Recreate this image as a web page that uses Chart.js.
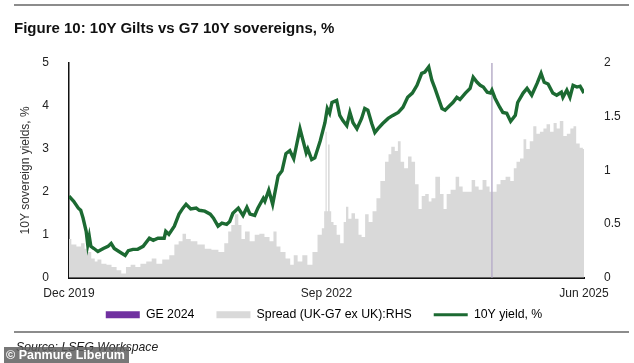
<!DOCTYPE html>
<html>
<head>
<meta charset="utf-8">
<script src="https://cdn.jsdelivr.net/npm/chart.js@4.4.1/dist/chart.umd.min.js"></script>
<style>
  html, body { margin: 0; padding: 0; background: #fff; }
  body { width: 634px; height: 363px; position: relative; overflow: hidden; font-family: "Liberation Sans", Arial, sans-serif; }
  #wrap { position: absolute; left: 0; top: 0; width: 634px; height: 363px; }
  .rule { position: absolute; left: 14px; width: 615px; height: 2px; background: #8c8c8c; }
  #title { position: absolute; left: 14px; top: 19px; font-size: 15px; font-weight: bold; color: #111; white-space: nowrap; }
  #source { position: absolute; left: 16px; top: 340px; font-size: 12.2px; font-style: italic; color: #222; white-space: nowrap; }
  #wm { position: absolute; left: 4px; top: 347px; width: 123px; height: 16px; background: rgba(95,95,95,0.85); color: #fff; font-weight: bold; font-size: 12.5px; line-height: 16px; padding-left: 2px; white-space: nowrap; }
</style>
</head>
<body>
<div id="wrap"><canvas id="c" width="634" height="363"></canvas></div>
<div class="rule" style="top:4px"></div>
<div id="title">Figure 10: 10Y Gilts vs G7 10Y sovereigns, %</div>
<div class="rule" style="top:331px;height:1.5px"></div>
<div id="source">Source: LSEG Workspace</div>
<div id="wm">© Panmure Liberum</div>
<script>
// x values are months since Dec 2019 (0 = Dec 2019, 66 = Jun 2025)
const xTickMonths = [0, 33, 66];
const xTickLabels = ['Dec 2019', 'Sep 2022', 'Jun 2025'];
const geMonth = 54.2;

const yieldMonths = [0,0.6,1.2,1.5,1.8,2.2,2.4,2.6,2.8,3.2,3.7,4.4,5.0,5.4,5.8,6.4,7.2,7.6,8.2,8.8,9.5,10.3,10.8,11.4,12.2,12.4,12.8,13.5,14.1,14.6,15.0,15.6,16.3,16.7,17.4,18.1,18.5,19.1,19.6,20.2,20.6,21.0,21.7,22.3,22.8,23.2,23.8,24.2,24.9,25.1,25.6,26.1,26.8,27.3,27.8,28.3,28.8,29.6,30.0,30.4,30.6,31.1,31.5,32.2,32.8,33.1,33.4,33.7,34.3,34.7,35.1,35.6,36.0,36.4,36.9,37.5,37.9,38.3,38.8,39.2,39.6,40.2,40.9,41.5,42.2,42.8,43.4,44.0,44.6,45.2,45.6,46.1,46.5,46.9,47.3,47.8,48.2,48.8,49.2,49.7,50.1,50.8,51.4,51.8,52.3,52.7,53.1,53.6,54.0,54.2,54.6,55.2,55.6,56.1,56.6,57.2,57.5,58.2,58.7,59.3,60.0,60.5,60.9,61.4,62.0,62.5,63.1,63.3,63.8,64.2,64.6,65.1,65.5,66.0];
const yieldValues = [1.90,1.78,1.62,1.57,1.39,1.08,0.77,0.96,0.73,0.68,0.61,0.68,0.73,0.80,0.68,0.61,0.52,0.63,0.66,0.66,0.73,0.92,0.87,0.92,0.92,1.08,1.01,1.20,1.48,1.62,1.71,1.60,1.62,1.57,1.55,1.48,1.39,1.20,1.27,1.24,1.31,1.50,1.62,1.45,1.64,1.48,1.45,1.62,1.85,1.78,2.04,1.71,2.37,2.49,2.89,2.96,2.77,3.47,3.19,2.91,3.00,2.75,2.79,3.19,3.61,3.94,3.83,4.08,4.13,3.78,3.66,3.54,3.85,3.61,3.47,3.71,3.94,3.90,3.59,3.38,3.47,3.59,3.71,3.78,3.85,3.97,4.20,4.30,4.48,4.76,4.79,4.91,4.60,4.41,4.20,3.94,3.90,4.01,4.08,4.20,4.15,4.30,4.41,4.67,4.55,4.48,4.44,4.32,4.30,4.37,4.18,3.97,3.85,3.83,3.64,3.78,4.08,4.30,4.41,4.25,4.53,4.76,4.55,4.51,4.30,4.25,4.32,4.20,4.37,4.20,4.48,4.44,4.46,4.30];

const spreadMonths = [0,0.6,1.3,1.8,2.2,2.6,3.1,3.5,3.8,4.5,5.1,5.8,6.4,7.0,7.6,8.2,8.8,9.5,10.3,10.9,11.5,12.4,13.3,13.7,14.4,14.7,15.3,15.9,17.0,17.8,18.7,19.6,20.2,20.6,21.0,21.5,21.9,22.3,22.8,23.5,24.1,24.7,25.4,26.0,26.4,26.8,27.4,28.1,28.6,29.0,29.6,30.2,30.9,31.5,32.2,32.6,32.8,32.95,33.1,33.3,33.5,33.7,34.1,34.5,35.0,35.4,35.6,36.0,36.4,36.9,37.3,37.7,38.2,38.6,39.2,39.6,40.2,40.8,41.1,41.5,42.0,42.3,42.7,43.2,43.7,44.1,44.6,45.0,45.4,45.9,46.3,46.6,47.3,47.8,48.2,48.6,49.2,49.9,50.1,50.8,51.4,51.8,52.3,52.7,53.3,53.7,54.1,54.6,55.0,55.6,56.3,56.8,57.2,57.5,58.1,58.4,58.8,59.3,59.7,60.1,60.6,61.0,61.4,61.9,62.3,62.7,63.1,63.6,64.0,64.5,64.8,65.2,65.7,66.0];
const spreadValues = [0.36,0.31,0.29,0.32,0.27,0.24,0.18,0.15,0.17,0.13,0.12,0.10,0.07,0.04,0.10,0.12,0.10,0.13,0.15,0.18,0.13,0.17,0.21,0.31,0.34,0.41,0.36,0.34,0.31,0.27,0.26,0.24,0.32,0.43,0.49,0.59,0.49,0.36,0.43,0.34,0.40,0.41,0.38,0.34,0.43,0.29,0.24,0.18,0.12,0.21,0.15,0.21,0.12,0.24,0.40,0.46,0.62,1.36,0.62,1.24,0.62,0.52,0.49,0.40,0.32,0.52,0.66,0.55,0.60,0.55,0.40,0.38,0.59,0.52,0.62,0.74,0.90,1.08,1.15,1.22,1.18,1.27,1.08,1.02,1.13,1.08,0.87,0.64,0.76,0.78,0.71,0.74,0.94,0.78,0.64,0.78,0.82,0.94,0.85,0.80,0.80,0.91,0.85,0.82,0.91,0.85,0.80,0.80,0.87,0.91,0.94,0.90,1.02,1.08,1.11,1.29,1.20,1.27,1.41,1.34,1.36,1.39,1.43,1.36,1.44,1.39,1.46,1.32,1.34,1.39,1.41,1.25,1.21,1.20];

const leftMax = 5, rightMax = 2;

const GREEN = '#1c6a32', GREY = '#d9d9d9', PURPLE = '#7030a0', GELINE = '#b8afc9';
const FONT = '"Liberation Sans", Arial, sans-serif';

const pts = (xs, ys) => xs.map((x, i) => ({ x, y: ys[i] }));

// legend sits closer to the axis labels than Chart.js' symmetric padding allows
const legendNudge = {
  id: 'legendNudge',
  beforeDraw(chart) {
    if (chart.legend) chart.legend.top = chart.chartArea.bottom + 9;
  }
};

new Chart(document.getElementById('c'), {
  type: 'line',
  plugins: [legendNudge],
  data: {
    datasets: [
      { label: 'GE 2024', data: [{ x: geMonth, y: 0 }, { x: geMonth, y: leftMax }], yAxisID: 'y',
        borderColor: GELINE, borderWidth: 1.5, pointRadius: 0, fill: false, order: 2 },
      { label: 'Spread (UK-G7 ex UK):RHS', data: pts(spreadMonths, spreadValues), yAxisID: 'y1',
        borderWidth: 0, borderColor: GREY, backgroundColor: GREY, pointRadius: 0, fill: 'origin', stepped: 'middle', order: 3 },
      { label: '10Y yield, %', data: pts(yieldMonths, yieldValues), yAxisID: 'y',
        borderColor: GREEN, borderWidth: 3.4, pointRadius: 0, fill: false, tension: 0, order: 1 }
    ]
  },
  options: {
    responsive: false, animation: false, devicePixelRatio: 1,
    layout: { padding: { top: 63, left: 14, right: 0, bottom: 11 } },
    plugins: {
      tooltip: { enabled: false },
      legend: {
        position: 'bottom',
        labels: {
          font: { family: FONT, size: 12.3 }, color: '#222', padding: 22,
          usePointStyle: true, pointStyleWidth: 34, boxHeight: 7,
          generateLabels: () => [
            { text: 'GE 2024', pointStyle: 'rect', fillStyle: PURPLE, strokeStyle: PURPLE, lineWidth: 0, datasetIndex: 0 },
            { text: 'Spread (UK-G7 ex UK):RHS', pointStyle: 'rect', fillStyle: GREY, strokeStyle: GREY, lineWidth: 0, datasetIndex: 1 },
            { text: '10Y yield, %', pointStyle: 'line', fillStyle: GREEN, strokeStyle: GREEN, lineWidth: 3, datasetIndex: 2 }
          ]
        }
      }
    },
    scales: {
      x: {
        type: 'linear', min: 0, max: 66,
        grid: { display: false },
        border: { display: true, color: '#111', width: 2 },
        afterBuildTicks: (axis) => { axis.ticks = xTickMonths.map(v => ({ value: v })); },
        afterFit: (axis) => { axis.height = 30; },
        ticks: {
          padding: 1, maxRotation: 0, autoSkip: false, color: '#222', font: { family: FONT, size: 12 },
          callback: (v) => { const i = xTickMonths.indexOf(v); return i >= 0 ? xTickLabels[i] : ''; }
        }
      },
      y: {
        position: 'left', min: 0, max: leftMax,
        grid: { display: false },
        border: { display: true, color: '#111', width: 1.5 },
        afterFit: (axis) => { axis.width = 55; },
        ticks: { stepSize: 1, padding: 12, color: '#222', font: { family: FONT, size: 12 }, callback: (v) => String(v) },
        title: { display: true, text: '10Y sovereign yields, %', color: '#333', font: { family: FONT, size: 12 }, padding: { top: 4, bottom: 0 } }
      },
      y1: {
        position: 'right', min: 0, max: rightMax,
        grid: { display: false },
        border: { display: false },
        afterFit: (axis) => { axis.width = 50; },
        ticks: { stepSize: 0.5, padding: 12, color: '#222', font: { family: FONT, size: 12 }, callback: (v) => String(v) }
      }
    }
  }
});
</script>
</body>
</html>
